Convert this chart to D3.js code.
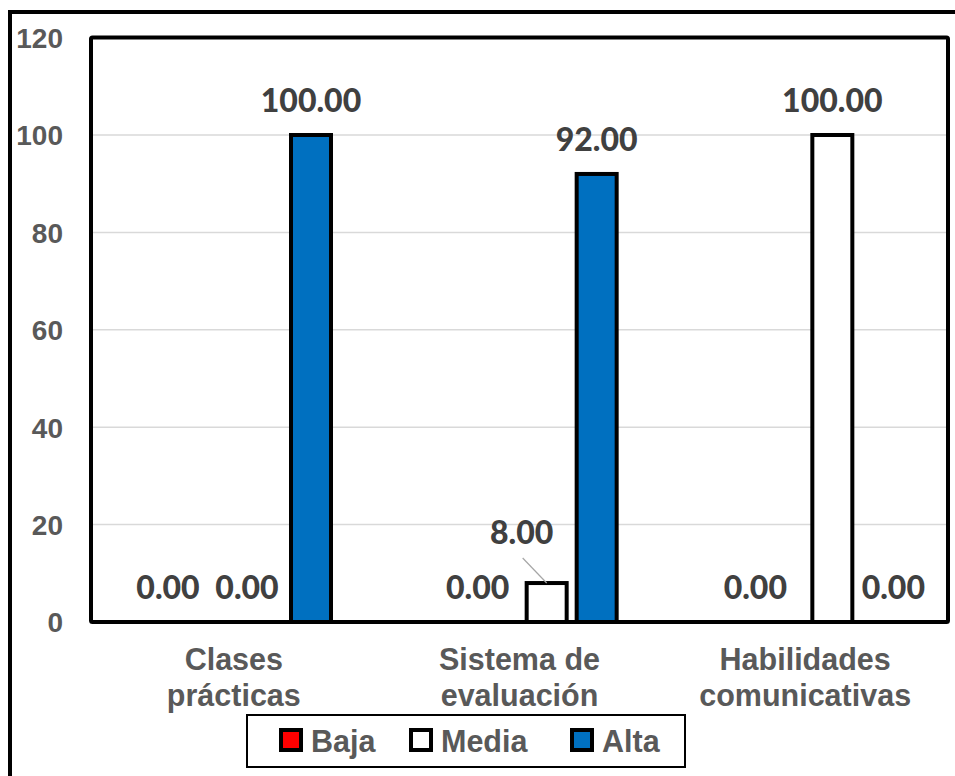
<!DOCTYPE html>
<html><head><meta charset="utf-8">
<script src="https://cdn.jsdelivr.net/npm/d3@7/dist/d3.min.js"></script>
<style>html,body{margin:0;padding:0;background:#fff;overflow:hidden}</style>
</head><body><svg id="chart" width="955" height="776"></svg>
<script>
// ---- data ----
const categories = [["Clases", "prácticas"], ["Sistema de", "evaluación"], ["Habilidades", "comunicativas"]];
const series = ["Baja", "Media", "Alta"];
const baja = [0, 0, 0];
const media = [0, 8, 100];
const alta = [100, 92, 0];
const yTicks = [0, 20, 40, 60, 80, 100, 120];

// ---- layout (label nudges reproduce manually moved labels) ----
const colors = {Baja: "#ff0000", Media: "#ffffff", Alta: "#0070c0"};
const nudge = {
  "0-Baja": [-43, 0], "0-Media": [-14, 0],
  "1-Baja": [-19, 0], "1-Media": [-25, -16],
  "2-Baja": [-27, 0], "2-Alta": [11, 0]
};
const values = {Baja: baja, Media: media, Alta: alta};

const svg = d3.select("#chart");
const L = 91, R = 948, T = 37.6, B = 622;

const x0 = d3.scaleBand().domain(d3.range(categories.length)).range([L, R]);
const x1 = d3.scaleBand().domain(series).range([95, 245]).paddingInner(0.2).paddingOuter(0.1);
const y = d3.scaleLinear().domain([0, 120]).range([B, T]);

// outer border
svg.append("rect").attr("x", 10).attr("y", 12).attr("width", 960).attr("height", 800)
  .attr("fill", "none").attr("stroke", "#000").attr("stroke-width", 4);

// gridlines
svg.append("g").selectAll("line").data(yTicks.filter(t => t > 0 && t < 120)).join("line")
  .attr("x1", L).attr("x2", R).attr("y1", d => y(d)).attr("y2", d => y(d))
  .attr("stroke", "#d9d9d9").attr("stroke-width", 1.5);

// y axis labels
const yAxis = d3.axisLeft(y).tickValues(yTicks).tickSize(0).tickPadding(28).tickFormat(d3.format("d"));
const ga = svg.append("g").attr("transform", `translate(${L},0)`).call(yAxis);
ga.select(".domain").remove();
ga.selectAll("text").attr("font-family", "Liberation Sans, Arial, sans-serif").attr("font-weight", "bold")
  .attr("font-size", 28).attr("fill", "#595959").attr("dy", "0.35em");

// bars
const groups = svg.append("g").selectAll("g").data(categories).join("g")
  .attr("transform", (d, i) => `translate(${x0(i)},0)`);
groups.each(function(c, i) {
  const g = d3.select(this);
  series.forEach(s => {
    const v = values[s][i];
    if (v > 0) {
      g.append("rect").attr("x", x1(s)).attr("width", x1.bandwidth())
        .attr("y", y(v)).attr("height", y(0) - y(v))
        .attr("fill", colors[s]).attr("stroke", "#000").attr("stroke-width", 4);
    }
  });
});

// plot border
svg.append("rect").attr("x", L).attr("y", T).attr("width", R - L).attr("height", B - T)
  .attr("fill", "none").attr("stroke", "#000").attr("stroke-width", 4).attr("rx", 1.5);

// data labels
categories.forEach((c, i) => {
  series.forEach(s => {
    const v = values[s][i];
    const n = nudge[i + "-" + s] || [0, 0];
    const cx = x0(i) + x1(s) + x1.bandwidth() / 2;
    const tx = cx + n[0], ty = y(v) - 23 + n[1];
    svg.append("text").attr("x", tx).attr("y", ty).attr("text-anchor", "middle")
      .attr("font-family", "Lato, sans-serif").attr("font-weight", 900).attr("font-size", 32)
      .attr("fill", "#404040").text(d3.format(".2f")(v));
    if (n[1] < -5) {
      svg.append("line").attr("x1", tx + 1).attr("y1", ty + 14).attr("x2", cx).attr("y2", y(v))
        .attr("stroke", "#a6a6a6").attr("stroke-width", 1.2);
    }
  });
});

// category labels
categories.forEach((c, i) => {
  const t = svg.append("text").attr("text-anchor", "middle")
    .attr("font-family", "Liberation Sans, Arial, sans-serif").attr("font-weight", "bold")
    .attr("font-size", 30.5).attr("fill", "#595959");
  c.forEach((line, k) => {
    t.append("tspan").attr("x", x0(i) + x0.bandwidth() / 2).attr("y", 670 + k * 36).text(line);
  });
});

// legend
const lg = svg.append("g");
lg.append("rect").attr("x", 247).attr("y", 715).attr("width", 438).attr("height", 52)
  .attr("fill", "#fff").attr("stroke", "#000").attr("stroke-width", 2);
const legendX = [279, 409, 570];
series.forEach((s, k) => {
  lg.append("rect").attr("x", legendX[k] + 2).attr("y", 730).attr("width", 20).attr("height", 20)
    .attr("fill", colors[s]).attr("stroke", "#000").attr("stroke-width", 4);
  lg.append("text").attr("x", legendX[k] + 32).attr("y", 752)
    .attr("font-family", "Liberation Sans, Arial, sans-serif").attr("font-weight", "bold")
    .attr("font-size", 30.5).attr("fill", "#595959").text(s);
});
</script></body></html>
